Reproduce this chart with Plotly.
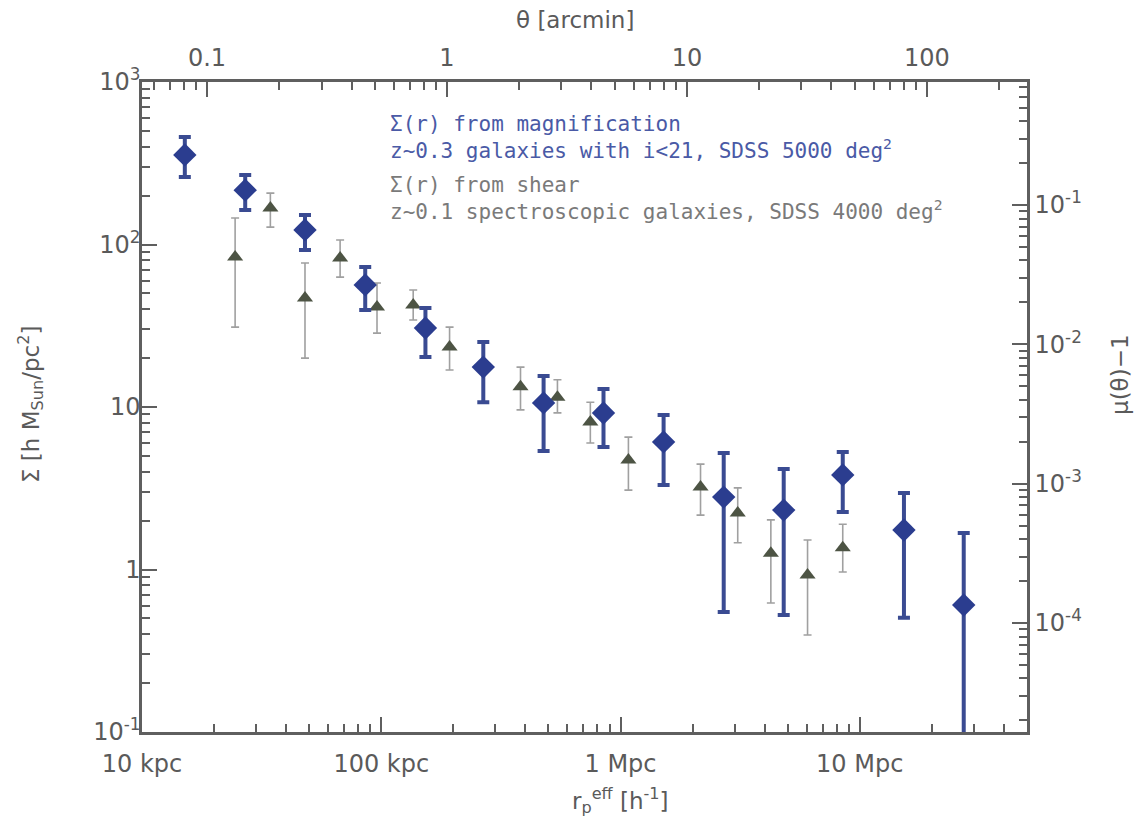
import plotly.graph_objects as go

# ---------------- data ----------------
# Sigma(r) from magnification (blue diamonds)
r_mag_kpc = [15.1, 27.0, 48.0, 85.7, 153, 267, 477, 849, 1514, 2700, 4810, 8490, 15300, 27200]
sigma_mag = [356, 216, 123, 56.4, 30.6, 17.6, 10.6, 9.18, 6.1, 2.79, 2.32, 3.82, 1.75, 0.605]
sigma_mag_hi = [459, 268, 152, 72.8, 40.6, 25.1, 15.5, 12.9, 8.93, 5.21, 4.15, 5.28, 2.96, 1.68]
sigma_mag_lo = [260, 163, 92.5, 39.5, 20.3, 10.7, 5.36, 5.67, 3.31, 0.547, 0.525, 2.26, 0.504, 0.01]

# Sigma(r) from shear (grey triangles)
r_shear_kpc = [24.5, 34.4, 48.0, 67.3, 96, 136, 193, 382, 545, 748, 1079, 2160, 3090, 4250, 6050, 8490]
sigma_shear = [83.8, 168, 46.9, 82.6, 41.2, 42.5, 23.4, 13.3, 11.5, 8.09, 4.72, 3.22, 2.23, 1.26, 0.925, 1.36]
sigma_shear_hi = [145.5, 207, 76.9, 106.6, 58, 52.5, 31, 17.6, 14.7, 10.7, 6.53, 4.45, 3.18, 2.02, 1.52, 1.9]
sigma_shear_lo = [31, 128, 20, 63, 28.5, 34.3, 16.9, 9.6, 9.2, 6.0, 3.08, 2.16, 1.46, 0.622, 0.395, 0.966]

# axis ticks
x_tickvals = [10, 100, 1000, 10000]
x_ticktext = ["10 kpc", "100 kpc", "1 Mpc", "10 Mpc"]
theta_tickvals = [0.1, 1, 10, 100]
theta_ticktext = ["0.1", "1", "10", "100"]
y_tickvals = [0.1, 1, 10, 100, 1000]
y_ticktext = ["10<sup>-1</sup>", "1", "10", "10<sup>2</sup>", "10<sup>3</sup>"]
mu_tickvals = [1e-4, 1e-3, 1e-2, 1e-1]
mu_ticktext = ["10<sup>-4</sup>", "10<sup>-3</sup>", "10<sup>-2</sup>", "10<sup>-1</sup>"]

# legend texts
mag_label = ["Σ(r) from magnification", "z~0.3 galaxies with i<21, SDSS 5000 deg<sup>2</sup>"]
shear_label = ["Σ(r) from shear", "z~0.1 spectroscopic galaxies, SDSS 4000 deg<sup>2</sup>"]

# ranges (log10)
x_range = [1.0, 4.699]
theta_range = [-1.271, 2.417]
y_range = [-1.0, 3.0]
mu_range = [-4.782, -0.117]


def minor_vals(lo_exp, hi_exp):
    vals = []
    for e in range(lo_exp, hi_exp + 1):
        for m in range(2, 10):
            vals.append(m * 10.0 ** e)
    return vals


AX = "#5f5f5f"
TXT = "#5a5a5a"
FONT = "DejaVu Sans"
MONO = "DejaVu Sans Mono"
TICKSIZE = 24

fig = go.Figure()

fig.add_trace(go.Scatter(
    x=r_shear_kpc, y=sigma_shear, mode="markers",
    marker=dict(symbol="triangle-up", size=14, color="#4d5444"),
    error_y=dict(type="data", symmetric=False,
                 array=[h - v for h, v in zip(sigma_shear_hi, sigma_shear)],
                 arrayminus=[v - l for l, v in zip(sigma_shear_lo, sigma_shear)],
                 color="#a0a0a0", thickness=1.6, width=4),
    showlegend=False, hoverinfo="skip"))

fig.add_trace(go.Scatter(
    x=r_mag_kpc, y=sigma_mag, mode="markers",
    marker=dict(symbol="diamond", size=18, color="#2b3d8f"),
    error_y=dict(type="data", symmetric=False,
                 array=[h - v for h, v in zip(sigma_mag_hi, sigma_mag)],
                 arrayminus=[v - l for l, v in zip(sigma_mag_lo, sigma_mag)],
                 color="#3a4b92", thickness=4, width=6),
    showlegend=False, hoverinfo="skip"))

# invisible helper traces so that the secondary (theta / mu) axes are drawn
fig.add_trace(go.Scatter(x=theta_tickvals, y=y_tickvals[1:], xaxis="x2", yaxis="y",
                         mode="markers", marker=dict(opacity=0), showlegend=False,
                         hoverinfo="skip"))
fig.add_trace(go.Scatter(x=x_tickvals, y=mu_tickvals, xaxis="x", yaxis="y2",
                         mode="markers", marker=dict(opacity=0), showlegend=False,
                         hoverinfo="skip"))

common = dict(showline=True, linecolor=AX, linewidth=2.5, ticks="inside",
              tickcolor=AX, tickwidth=2, ticklen=15, showgrid=False,
              zeroline=False, tickfont=dict(family=FONT, size=TICKSIZE, color=TXT))
minor_common = dict(ticks="inside", ticklen=8, tickcolor=AX, tickwidth=1.8, showgrid=False)

fig.update_layout(
    width=1137, height=825,
    margin=dict(l=142, r=110, t=82, b=93),
    paper_bgcolor="white", plot_bgcolor="white",
    font=dict(family=FONT, color=TXT),
    xaxis=dict(type="log", range=x_range, tickmode="array",
               tickvals=x_tickvals, ticktext=x_ticktext, ticklabelstandoff=8,
               minor=dict(tickmode="array", tickvals=minor_vals(1, 4), **minor_common),
               **common),
    xaxis2=dict(type="log", range=theta_range, overlaying="x", anchor="y",
                side="top", tickmode="array",
                tickvals=theta_tickvals, ticktext=theta_ticktext, ticklabelstandoff=4,
                minor=dict(tickmode="array", tickvals=minor_vals(-2, 2), **minor_common),
                **common),
    yaxis=dict(type="log", range=y_range, tickmode="array",
               tickvals=y_tickvals, ticktext=y_ticktext, ticklabelstandoff=-6,
               minor=dict(tickmode="array", tickvals=minor_vals(-1, 2), **minor_common),
               **common),
    yaxis2=dict(type="log", range=mu_range, overlaying="y", anchor="x",
                side="right", tickmode="array",
                tickvals=mu_tickvals, ticktext=mu_ticktext,
                minor=dict(tickmode="array", tickvals=minor_vals(-5, -1), **minor_common),
                **common),
)

LEG = 21
TIT = 23
annots = [
    dict(text="θ [arcmin]", x=575, y=20, font=dict(family=FONT, size=TIT, color=TXT)),
    dict(text="r<sub>p</sub><sup>eff</sup> [h<sup>-1</sup>]", x=620, y=800,
         font=dict(family=FONT, size=TIT, color=TXT)),
    dict(text="Σ [h M<sub>Sun</sub>/pc<sup>2</sup>]", x=30, y=405, textangle=-90,
         font=dict(family=FONT, size=TIT, color=TXT)),
    dict(text="μ(θ)−1", x=1120, y=375, textangle=-90,
         font=dict(family=FONT, size=TIT, color=TXT)),
    dict(text="<br>".join(mag_label), x=388, y=137, xanchor="left", align="left",
         font=dict(family=MONO, size=LEG, color="#4a5aa6")),
    dict(text="<br>".join(shear_label), x=388, y=198, xanchor="left", align="left",
         font=dict(family=MONO, size=LEG, color="#7a7a7a")),
]
# convert pixel placement of the free texts into paper coordinates
PL, PR, PT, PB = 142, 1027, 82, 732
for a in annots:
    a["x"] = (a["x"] - PL) / (PR - PL)
    a["y"] = 1 - (a["y"] - PT) / (PB - PT)
    a.setdefault("xanchor", "center")
    a["yanchor"] = "middle"
    a["xref"] = "paper"
    a["yref"] = "paper"
    a["showarrow"] = False
fig.update_layout(annotations=annots)

fig.write_html("out.html")
